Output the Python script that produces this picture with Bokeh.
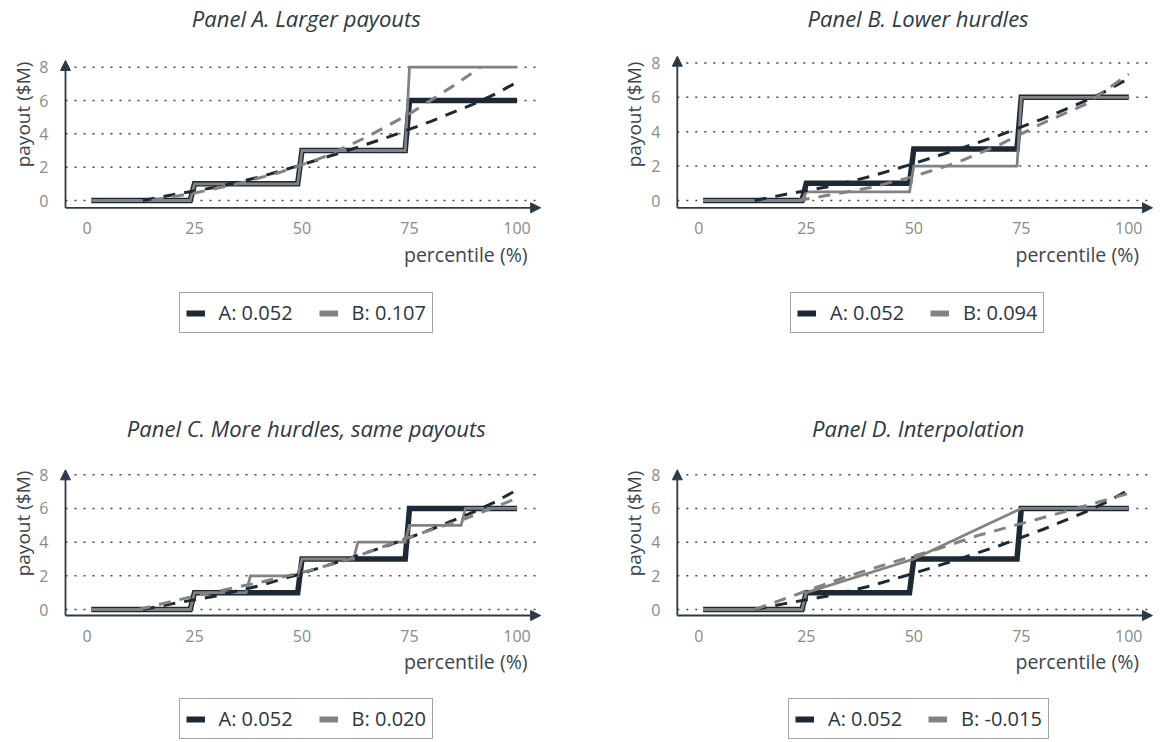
import math
from bokeh.plotting import figure
from bokeh.layouts import gridplot
from bokeh.models import (Range1d, Legend, LegendItem, Label, Arrow,
                          NormalHead)
from bokeh.embed import file_html
from bokeh.resources import INLINE

# ---------------- data ----------------
percentile_ticks = [0, 25, 50, 75, 100]
payout_ticks = [0, 2, 4, 6, 8]

# Plan A (same in every panel)
plan_a_pct = [1, 24, 25, 49, 50, 74, 75, 100]
plan_a_payout = [0, 0, 1, 1, 3, 3, 6, 6]
plan_a_fit_pct = [13, 20, 30, 40, 50, 60, 70, 80, 90, 95, 100]
plan_a_fit_payout = [0, 0.35, 0.8, 1.4, 2.15, 2.95, 3.8, 4.75, 5.8, 6.4, 7.1]

# Panel A: larger payouts
larger_pct = [1, 24, 25, 49, 50, 74, 75, 100]
larger_payout = [0, 0, 1, 1, 3, 3, 8, 8]
larger_fit_pct = [15, 25, 35, 45, 55, 65, 75, 85, 91.5]
larger_fit_payout = [0, 0.45, 1.0, 1.7, 2.6, 3.8, 5.2, 6.85, 8.0]

# Panel B: lower hurdles
lower_pct = [1, 24, 25, 49, 50, 74, 75, 100]
lower_payout = [0, 0, 0.5, 0.5, 2, 2, 6, 6]
lower_fit_pct = [23, 30, 40, 50, 60, 70, 80, 90, 100]
lower_fit_payout = [0, 0.3, 0.75, 1.4, 2.2, 3.25, 4.5, 5.6, 7.35]

# Panel C: more hurdles, same payouts
more_pct = [1, 24, 25, 37, 38, 49, 50, 62, 63, 74, 75, 87, 88, 100]
more_payout = [0, 0, 1, 1, 2, 2, 3, 3, 4, 4, 5, 5, 6, 6]
more_fit_pct = [12, 25, 40, 50, 60, 75, 88, 100]
more_fit_payout = [0, 0.8, 1.6, 2.2, 2.9, 4.3, 5.4, 6.6]

# Panel D: interpolation
interp_pct = [1, 24, 25, 50, 75, 100]
interp_payout = [0, 0, 1, 3, 6, 6]
interp_fit_pct = [13, 25, 35, 45, 55, 65, 75, 85, 100]
interp_fit_payout = [0, 1.1, 2.0, 2.8, 3.55, 4.4, 5.1, 5.8, 6.9]

titles = ["Panel A. Larger payouts", "Panel B. Lower hurdles",
          "Panel C. More hurdles, same payouts", "Panel D. Interpolation"]
legend_a = ["A: 0.052", "A: 0.052", "A: 0.052", "A: 0.052"]
legend_b = ["B: 0.107", "B: 0.094", "B: 0.020", "B: -0.015"]

# ---------------- style ----------------
FONT = "Open Sans"
DARK = "#1d2935"
GRAY = "#828282"
AXIS = "#2c3a46"
GRID = "#444444"
TICK = "#8a8a8a"
LABEL = "#3a4550"
TITLE = "#2c3844"
NAN = float("nan")

PPX = 4.3          # pixels per percentile unit
X_AXIS = -5        # y axis line position (percentile units)
X_TIP = 105.5      # end of the x arrow


def panel(title, b_pct, b_pay, fb_pct, fb_pay, a_lab, b_lab,
          w, h, fig_left, fig_top, x0_px, y0_px, ppu, axis_px, tip_px,
          title_px, ylab_px, xlab_px, leg_cx_px, leg_bottom_px, leg_w):
    def dx(px):
        return (px - x0_px) / PPX

    def dy(px):
        return (y0_px - px) / ppu

    x_lo = dx(fig_left)
    x_hi = x_lo + w / PPX
    y_hi = dy(fig_top)
    y_lo = y_hi - h / ppu
    y_axis = dy(axis_px)

    p = figure(width=w, height=h, x_range=Range1d(x_lo, x_hi),
               y_range=Range1d(y_lo, y_hi), output_backend="svg",
               toolbar_location=None, title=None, min_border=0,
               min_border_left=0, min_border_right=0, min_border_top=0,
               min_border_bottom=0)
    p.outline_line_color = None
    p.background_fill_color = "white"
    p.border_fill_color = "white"
    p.xgrid.visible = False
    p.ygrid.visible = False
    p.xaxis.ticker = percentile_ticks
    p.yaxis.ticker = payout_ticks
    p.xaxis.fixed_location = y_axis
    p.yaxis.fixed_location = X_AXIS
    for ax in (p.xaxis[0], p.yaxis[0]):
        ax.axis_line_color = None
        ax.major_tick_line_color = None
        ax.minor_tick_line_color = None
        ax.major_tick_out = 0
        ax.major_tick_in = 0
        ax.minor_tick_out = 0
        ax.major_label_text_font = FONT
        ax.major_label_text_font_size = "16px"
        ax.major_label_text_color = TICK
    p.xaxis.major_label_standoff = 14
    p.yaxis.major_label_standoff = 17

    # dotted horizontal guides at each payout tick
    p.segment(x0=X_AXIS, x1=X_TIP, y0=payout_ticks, y1=payout_ticks,
              line_color=GRID, line_width=1.5, line_dash="2 7")

    p.line(plan_a_pct, plan_a_payout, line_color=DARK, line_width=5.5,
           line_join="miter")
    p.line(b_pct, b_pay, line_color=GRAY, line_width=2.8, line_join="miter")
    p.line(plan_a_fit_pct, plan_a_fit_payout, line_color=DARK,
           line_width=3, line_dash="12 9")
    p.line(fb_pct, fb_pay, line_color=GRAY, line_width=3, line_dash="12 9")

    head = dict(size=10, line_color=AXIS, fill_color=AXIS, line_width=1)
    p.add_layout(Arrow(end=NormalHead(**head), x_start=X_AXIS,
                       y_start=y_axis, x_end=X_AXIS, y_end=dy(tip_px),
                       line_color=AXIS, line_width=1.8))
    p.add_layout(Arrow(end=NormalHead(**head), x_start=X_AXIS,
                       y_start=y_axis, x_end=X_TIP, y_end=y_axis,
                       line_color=AXIS, line_width=1.8))

    p.add_layout(Label(x=51, y=dy(title_px), text=title,
                       text_align="center", text_baseline="alphabetic",
                       text_font=FONT, text_font_style="italic",
                       text_font_size="22px", text_color=TITLE))
    p.add_layout(Label(x=dx(ylab_px[0]), y=dy(ylab_px[1]),
                       text="payout ($M)", angle=math.pi / 2,
                       text_align="center", text_baseline="middle",
                       text_font=FONT, text_font_size="19px",
                       text_color=LABEL))
    p.add_layout(Label(x=dx(xlab_px[0]), y=dy(xlab_px[1]),
                       text="percentile (%)", text_align="right",
                       text_baseline="middle", text_font=FONT,
                       text_font_size="19.5px", text_color=LABEL))

    ra = p.line(x=[NAN], y=[NAN], line_color=DARK, line_width=6)
    rb = p.line(x=[NAN], y=[NAN], line_color=GRAY, line_width=6)
    legend = Legend(items=[LegendItem(label=a_lab, renderers=[ra]),
                           LegendItem(label=b_lab, renderers=[rb])],
                    orientation="horizontal",
                    location=(leg_cx_px - fig_left - leg_w / 2,
                              fig_top + h - leg_bottom_px),
                    border_line_color="#4a4a4a", border_line_width=1.3,
                    background_fill_color="white", background_fill_alpha=1,
                    padding=6, spacing=26, margin=0, glyph_width=19,
                    glyph_height=16, label_standoff=14, label_height=16,
                    label_text_font=FONT, label_text_font_size="20px",
                    label_text_color="#2b3640")
    p.add_layout(legend)
    return p


W_L, W_R, H_T, H_B = 619, 541, 413, 328

pa = panel(titles[0], larger_pct, larger_payout, larger_fit_pct,
           larger_fit_payout, legend_a[0], legend_b[0],
           W_L, H_T, 0, 0, 86.5, 200, 16.66, 207.3, 60, 17.5,
           (22, 114), (527, 254), 305, 333, 253)
pb = panel(titles[1], lower_pct, lower_payout, lower_fit_pct,
           lower_fit_payout, legend_a[1], legend_b[1],
           W_R, H_T, W_L, 0, 698.3, 200, 17.2, 207.3, 55.7, 17.5,
           (633.5, 114), (1138.5, 254), 916.5, 333, 253)
pc = panel(titles[2], more_pct, more_payout, more_fit_pct,
           more_fit_payout, legend_a[2], legend_b[2],
           W_L, H_B, 0, H_T, 86.5, 609, 16.84, 615, 469.3, 427,
           (22, 523), (527, 661), 305, 739, 253)
pd = panel(titles[3], interp_pct, interp_payout, interp_fit_pct,
           interp_fit_payout, legend_a[3], legend_b[3],
           W_R, H_B, W_L, H_T, 698.3, 609, 16.84, 615, 469.3, 427,
           (633.5, 523), (1138.5, 661), 917.5, 739, 259)

grid = gridplot([[pa, pb], [pc, pd]], toolbar_location=None)

open("out.html", "w").write(file_html(grid, INLINE))
